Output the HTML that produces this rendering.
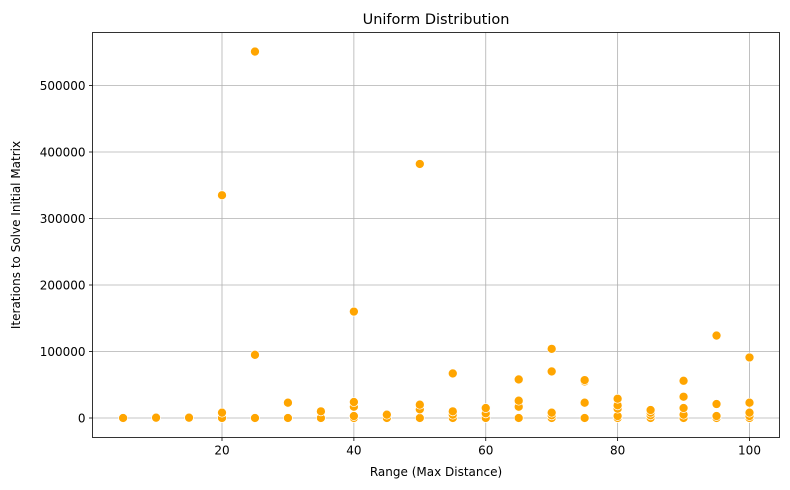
<!DOCTYPE html>
<html><head><meta charset="utf-8"><style>
body{margin:0;background:#fff;}
svg{display:block;font-family:"DejaVu Sans","Liberation Sans",sans-serif;}
</style></head><body>
<svg id="chart" width="790" height="490"></svg>
<script>
const xCats=[5,10,15,20,25,30,35,40,45,50,55,60,65,70,75,80,85,90,95,100];
const yVals=[
 [0],[0,500],[0,500],[0,8000,335000],[0,95000,551000],[0,23000],[0,10000],
 [0,3000,17000,24000,160000],[0,5000],[0,13000,20000,382000],[0,5000,10000,67000],
 [0,7000,15000],[0,17000,26000,58000],[0,4000,8000,70000,104000],[0,23000,55000,57000],
 [0,3000,14000,19000,29000],[0,4000,8000,12000],[0,5000,15000,32000,56000],
 [0,3000,21000,124000],[0,3000,8000,23000,91000]];
const xTicks=[20,40,60,80,100];
const yTicks=[0,100000,200000,300000,400000,500000];
const L=92.5,R=779.5,T=32.5,B=437.5;
const sx=v=>222+(v-20)*(749.5-222)/80;
const sy=v=>418-v*(418-85.5)/500000;
const svg=document.getElementById('chart');
const NS='http://www.w3.org/2000/svg';
function mk(t,a,txt){const e=document.createElementNS(NS,t);for(const k in a)e.setAttribute(k,a[k]);if(txt!==undefined)e.textContent=txt;svg.appendChild(e);return e;}
xTicks.forEach(v=>{const x=sx(v);
 let g=mk('line',{x1:x,x2:x,y1:T,y2:B,stroke:'#b0b0b0','stroke-width':0.8});
 
 
 mk('line',{x1:x,x2:x,y1:B,y2:B+3.5,stroke:'#000','stroke-width':0.8});
 let t=mk('text',{x:x,y:B+17,'text-anchor':'middle','font-size':12,fill:'#000'},v);
 
 
});
yTicks.forEach(v=>{const y=sy(v);
 let g=mk('line',{x1:L,x2:R,y1:y,y2:y,stroke:'#b0b0b0','stroke-width':0.8});
 
 
 mk('line',{x1:L-3.5,x2:L,y1:y,y2:y,stroke:'#000','stroke-width':0.8});
 let t=mk('text',{x:L-7,y:y+4.5,'text-anchor':'end','font-size':12,fill:'#000'},v);
 
 
});
xCats.forEach((c,i)=>yVals[i].forEach(v=>{
 const p=mk('circle',{cx:sx(c),cy:sy(v),r:4.5,fill:'#FFA500',stroke:'#fff','stroke-width':0.7});
 
 
}));
const f=mk('rect',{x:L,y:T,width:R-L,height:B-T,fill:'none',stroke:'#000','stroke-width':0.8});


const ti=mk('text',{x:(L+R)/2,y:24,'text-anchor':'middle','font-size':14.5,fill:'#000'},'Uniform Distribution');


const xl=mk('text',{x:(L+R)/2,y:476,'text-anchor':'middle','font-size':12,fill:'#000'},'Range (Max Distance)');


const yl=mk('text',{x:0,y:0,'text-anchor':'middle','font-size':12,fill:'#000',transform:`translate(20,${(T+B)/2}) rotate(-90)`},'Iterations to Solve Initial Matrix');


</script>
</body></html>
